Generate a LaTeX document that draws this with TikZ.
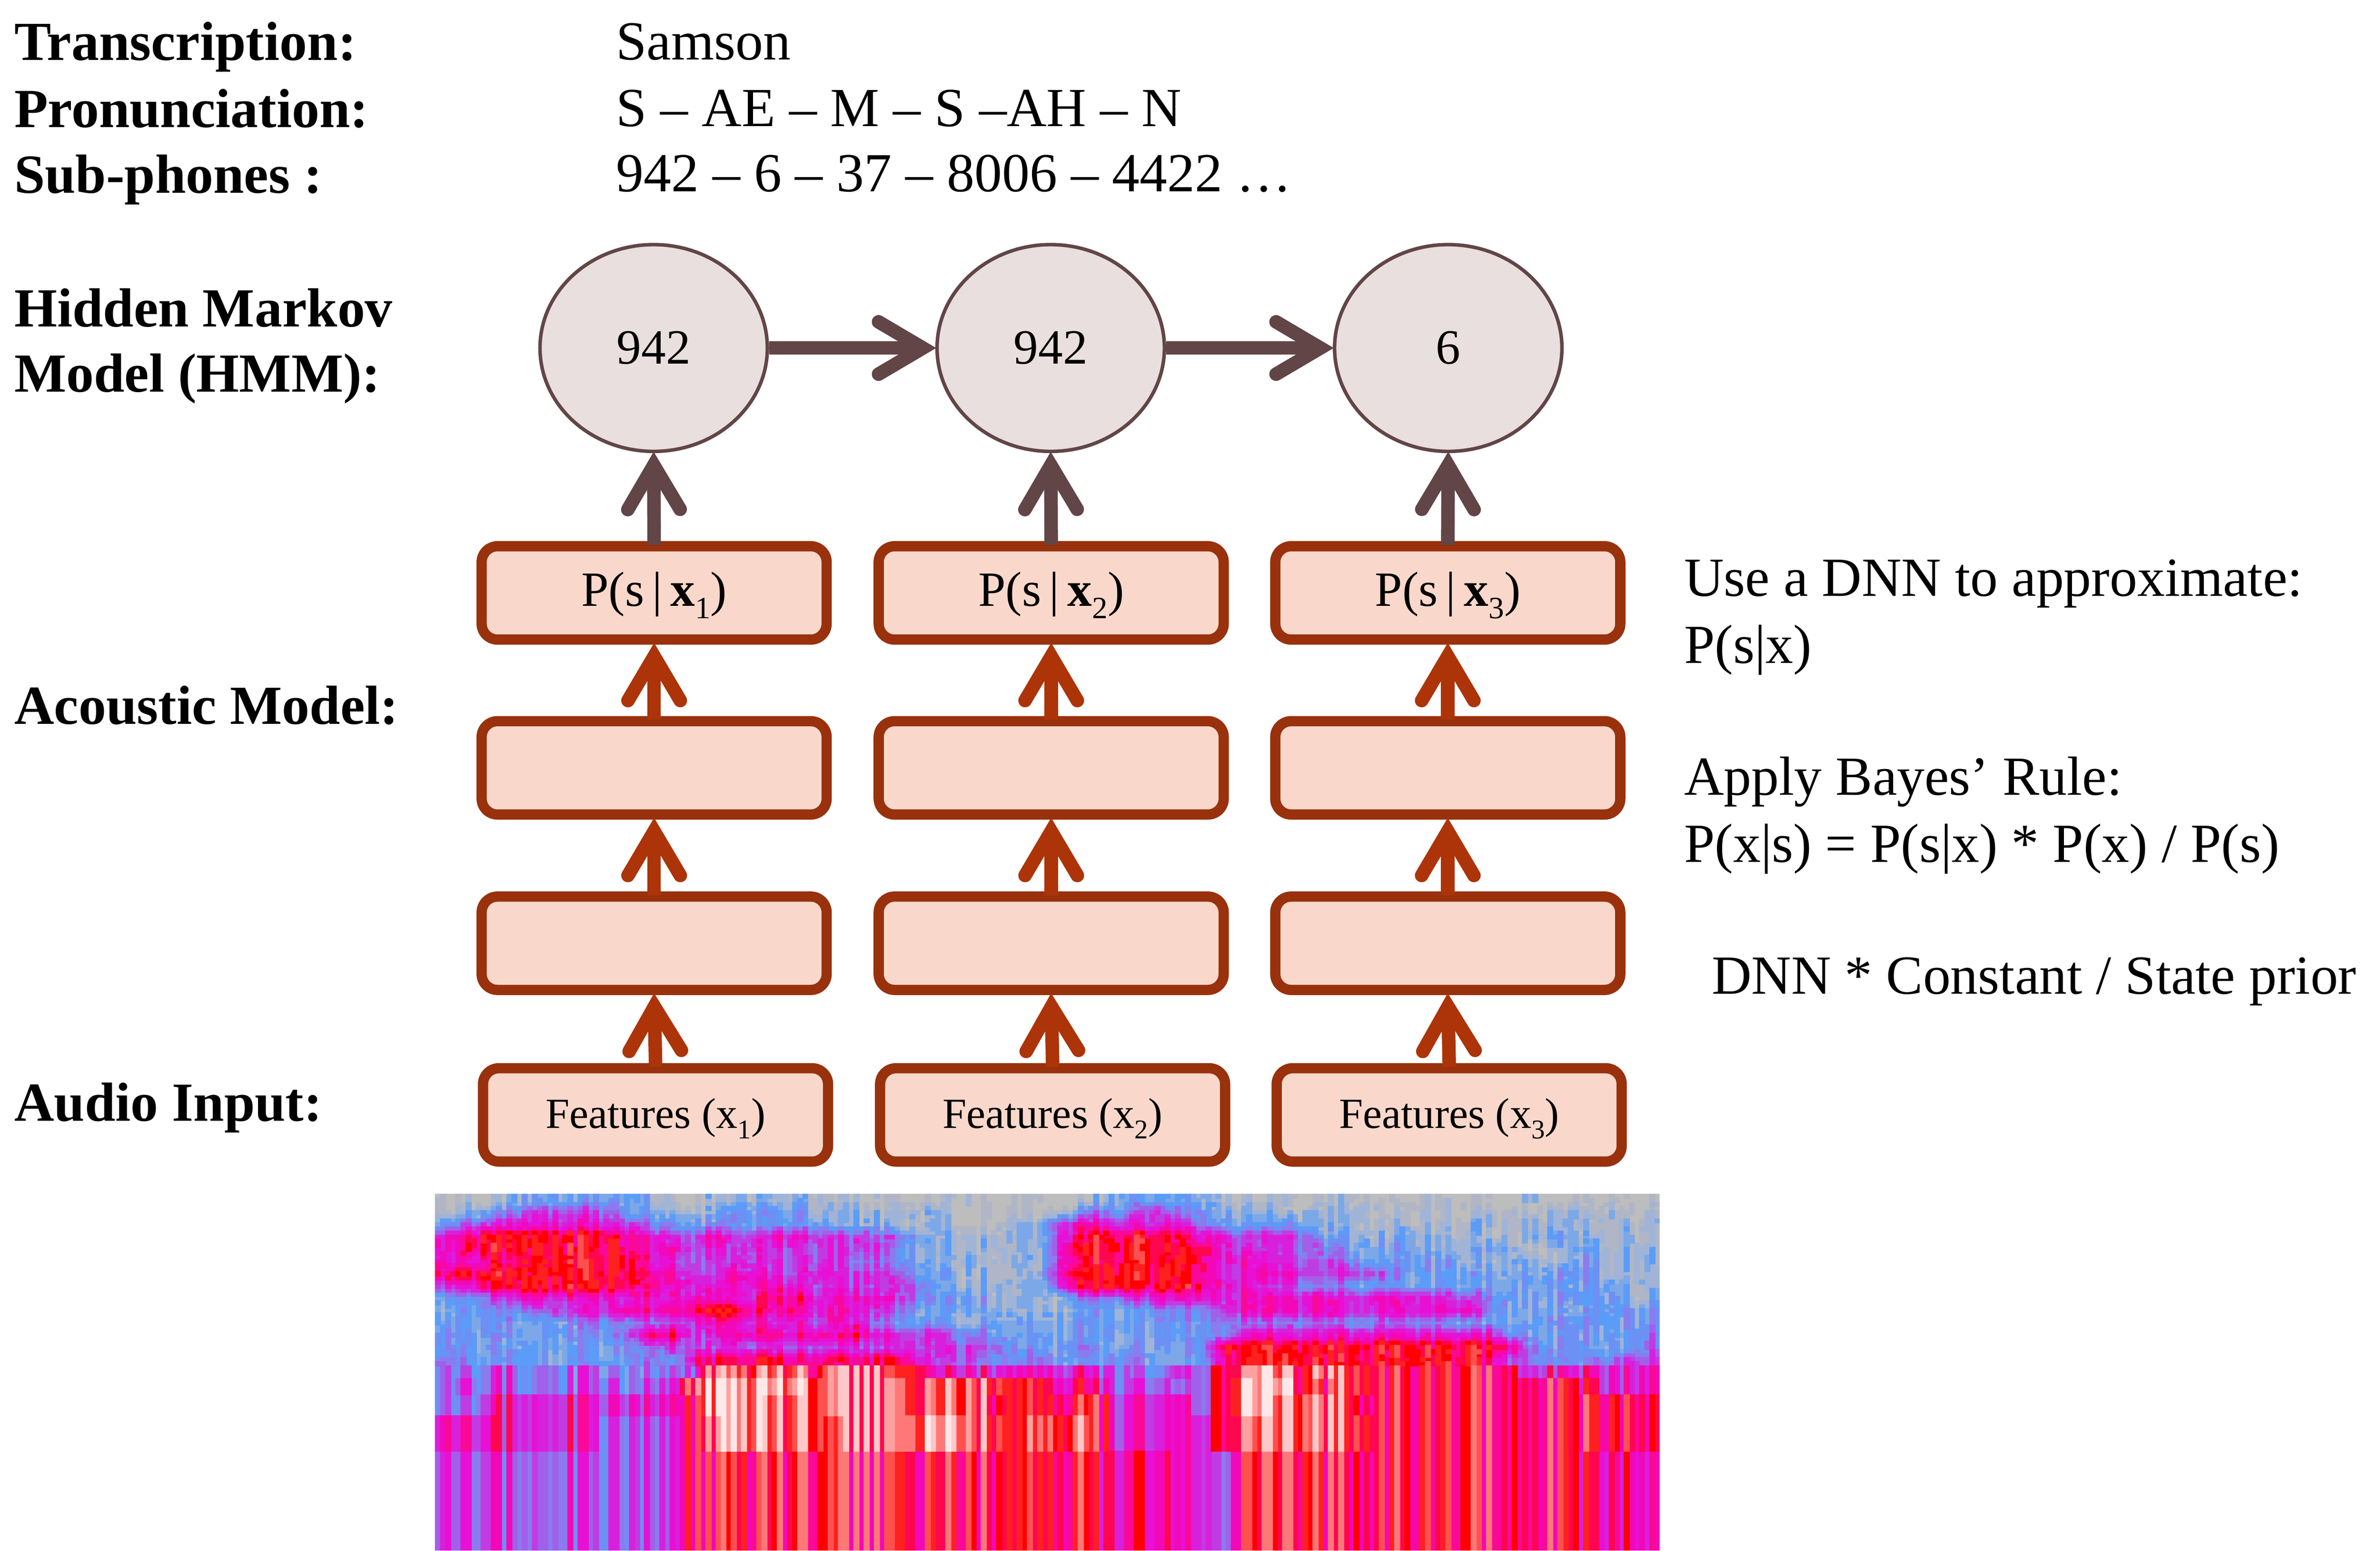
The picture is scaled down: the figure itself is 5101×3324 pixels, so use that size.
\documentclass[tikz,border=0pt]{standalone}
\usepackage{fontspec}
\setmainfont{Liberation Serif}
\usetikzlibrary{arrows.meta,shapes.geometric}
\definecolor{dk}{HTML}{624546}
\definecolor{org}{HTML}{AC3408}
\definecolor{bd}{HTML}{99310D}
\definecolor{bx}{HTML}{F9D8CB}
\definecolor{el}{HTML}{E8DFDE}
\definecolor{sp0}{HTML}{BDBDBD}
\definecolor{sp1}{HTML}{B0B6C6}
\definecolor{sp2}{HTML}{A0B4D8}
\definecolor{sp3}{HTML}{7CA8E8}
\definecolor{sp4}{HTML}{5A9CF8}
\definecolor{sp5}{HTML}{6C90F4}
\definecolor{sp6}{HTML}{8A7CEE}
\definecolor{sp7}{HTML}{A060EA}
\definecolor{sp8}{HTML}{C03CE2}
\definecolor{sp9}{HTML}{D820DC}
\definecolor{sp10}{HTML}{E810D4}
\definecolor{sp11}{HTML}{F208B8}
\definecolor{sp12}{HTML}{FA0898}
\definecolor{sp13}{HTML}{FF0650}
\definecolor{sp14}{HTML}{FF0000}
\definecolor{sp15}{HTML}{FF2020}
\definecolor{sp16}{HTML}{FF5050}
\definecolor{sp17}{HTML}{FF7878}
\definecolor{sp18}{HTML}{FFA0A0}
\definecolor{sp19}{HTML}{FFC8C8}
\definecolor{sp20}{HTML}{FFE8E8}
% pseudo-random numbers for the spectrogram streaks
\newcount\rndv \rndv=12345
\newcount\rndt
\newcount\rndres
\def\nextrnd#1{%
  \global\multiply\rndv by 1103 \global\advance\rndv by 12345
  \rndt=\rndv \divide\rndt by 32768 \multiply\rndt by 32768
  \global\advance\rndv by -\rndt
  \rndres=\rndv \divide\rndres by 64
  \rndt=\rndres \divide\rndt by #1 \multiply\rndt by #1
  \advance\rndres by -\rndt}
\newcount\ii \ii=0
\loop
  \nextrnd{7}\advance\rndres by -3
  \expandafter\xdef\csname cn\the\ii\endcsname{\the\rndres}
  \nextrnd{3}\advance\rndres by -1
  \expandafter\xdef\csname st\the\ii\endcsname{\the\rndres}
  \advance\ii by 1
\ifnum\ii<240 \repeat
\ii=0
\loop
  \expandafter\gdef\csname sq\the\ii\endcsname{}
  \advance\ii by 1
\ifnum\ii<21 \repeat
\newcount\colidx \newcount\subc \newcount\subr \newcount\lev
\newcount\xa \newcount\xb \newcount\ya \newcount\yb
\newcount\rA \newcount\rB \newcount\gg \newcount\cA \newcount\cB \newcount\ff \newcount\qq
% store one row of the intensity table
\def\storerow#1#2{\def\currow{#1}\colidx=0 \storescan#2\relax}
\def\storescan#1{\ifx#1\relax\else
  \expandafter\xdef\csname m\currow.\the\colidx\endcsname{#1}%
  \advance\colidx by 1 \expandafter\storescan\fi}
\def\mval#1#2{\csname m\the#1.\the#2\endcsname}
% collect each rectangle in the path of its colour
\def\addrect{%
  \ifnum\lev<0 \lev=0 \fi \ifnum\lev>20 \lev=20 \fi
  \xa=\numexpr 932+\subc*2625/240\relax
  \xb=\numexpr 932+(\subc+1)*2625/240+\ifnum\subc<239 2\else 0\fi\relax
  \expandafter\xdef\csname sq\the\lev\endcsname{%
    \unexpanded\expandafter\expandafter\expandafter{\csname sq\the\lev\endcsname}%
    (\the\xa,\the\ya)rectangle(\the\xb,\the\yb)}}
% upper part: smooth table with short vertical streaks
\def\drawtop{\subr=0 \dtrow}
\def\dtrow{\ifnum\subr<42
  \qq=\subr \advance\qq by -1 \ifnum\qq<0 \qq=0 \fi
  \rA=\qq \divide\rA by 3 \gg=\qq \advance\gg by -\numexpr3*\rA\relax
  \rB=\rA \advance\rB by 1 \ifnum\rB>13 \rB=13 \fi
  \ya=\numexpr 2559+\subr*368/42\relax
  \yb=\numexpr 2559+(\subr+1)*368/42+2\relax
  \subc=0 \dtcell \advance\subr by 1 \expandafter\dtrow\fi}
\def\dtcell{\ifnum\subc<240 \dodt \advance\subc by 1 \expandafter\dtcell\fi}
\def\dodt{%
  \qq=\subc \advance\qq by -2 \ifnum\qq<0 \qq=0 \fi
  \cA=\qq \divide\cA by 4 \ff=\qq \advance\ff by -\numexpr4*\cA\relax
  \cB=\cA \advance\cB by 1 \ifnum\cB>59 \cB=59 \fi
  \nextrnd{3}\ifnum\rndres=0 \nextrnd{3}\advance\rndres by -1
    \expandafter\xdef\csname st\the\subc\endcsname{\the\rndres}\fi
  \lev=\numexpr((4-\ff)*(3-\gg)*\mval\rA\cA+\ff*(3-\gg)*\mval\rA\cB
    +(4-\ff)*\gg*\mval\rB\cA+\ff*\gg*\mval\rB\cB)/6
    +\csname cn\the\subc\endcsname/3+\csname st\the\subc\endcsname\relax
  \addrect}
% lower part: sharp bands of long streaks
\def\drawband#1#2#3{\storerow{99}{#3}\rA=99 \ya=#1 \yb=#2 \subc=0 \dbcell}
\def\dbcell{\ifnum\subc<240
  \cA=\subc \divide\cA by 4
  \lev=\numexpr 2*\mval\rA\cA+\csname cn\the\subc\endcsname\relax
  \addrect
  \advance\subc by 1 \expandafter\dbcell\fi}
\def\filldo#1#2{\fill[sp#2] #1;}
\def\fillsq#1{\expandafter\expandafter\expandafter\filldo\expandafter\expandafter\expandafter{\csname sq#1\endcsname}{#1}}
\newcommand\psub[1]{\raisebox{-0.27cm}{\fontsize{18.9}{20}\selectfont #1}}
\newcommand\fsub[1]{\raisebox{-0.23cm}{\fontsize{16.5}{18}\selectfont #1}}
\tikzset{
  head/.style={anchor=base west,inner sep=0pt,font=\fontsize{33.6}{40}\selectfont\bfseries},
  body/.style={anchor=base west,inner sep=0pt,font=\fontsize{33.6}{40}\selectfont},
  state/.style={ellipse,draw=dk,fill=el,line width=0.075cm,minimum width=4.87cm,minimum height=4.43cm,inner sep=0pt,font=\fontsize{30}{34}\selectfont},
  layer/.style={rectangle,draw=bd,fill=bx,line width=0.22cm,rounded corners=0.34cm,minimum width=7.39cm,minimum height=2cm,inner sep=0pt},
  plabel/.style={font=\fontsize{30}{34}\selectfont,text height=0.7cm,text depth=0.14cm},
  flabel/.style={font=\fontsize{26.2}{31}\selectfont,text height=0.66cm,text depth=0.1cm},
  darrow/.style={draw=dk,line width=0.29cm,-{Straight Barb[length=0.95cm,width=1.12cm,line width=0.29cm,line cap=round,line join=miter]}},
  oarrow/.style={draw=org,line width=0.29cm,-{Straight Barb[length=0.95cm,width=1.12cm,line width=0.29cm,line cap=round,line join=miter]}}
}
\begin{document}
\begin{tikzpicture}[x=0.01cm,y=-0.01cm]
\useasboundingbox (0,0) rectangle (5101,3324);
\fill[white] (0,0) rectangle (5101,3324);
% left headings
\node[head] (t1) at (30,129) {Transcription:};
\node[head] (t2) at (30,273) {Pronunciation:};
\node[head] (t3) at (30,414) {Sub-phones :};
\node[head] (t4) at (30,700) {Hidden Markov};
\node[head] (t5) at (30,840) {Model (HMM):};
\node[head] (t6) at (30,1552) {Acoustic Model:};
\node[head] (t7) at (30,2403) {Audio Input:};
% top values
\node[body] (v1) at (1320,128) {Samson};
\node[body] (v2) at (1320,271) {S – AE – M – S –AH – N};
\node[body] (v3) at (1320,411) {942 – 6 – 37 – 8006 – 4422 …};
% right notes
\node[body] (n1) at (3609,1278) {Use a DNN to approximate:};
\node[body] (n2) at (3609,1422) {P(s|x)};
\node[body] (n3) at (3609,1704) {Apply Bayes’ Rule:};
\node[body] (n4) at (3609,1848) {P(x|s) = P(s|x) * P(x) / P(s)};
\node[body] (n5) at (3668,2131) {DNN * Constant / State prior};
% columns
\node[state] (e1) at (1401,746) {942};
\node[state] (e2) at (2252,746) {942};
\node[state] (e3) at (3104,746) {6};
\foreach \i/\cx in {1/1402,2/2253,3/3103}{
  \node[layer,plabel] (p\i) at (\cx,1271) {P(s\,|\,\textbf{x}\psub{\i})};
  \node[layer] (a\i) at (\cx,1646) {};
  \node[layer] (b\i) at (\cx,2022) {};
  \node[layer,flabel] (f\i) at (\cx+3,2390) {Features (x\fsub{\i})};
}
\draw[darrow,shorten >=-0.02cm] (e1) -- (e2);
\draw[darrow,shorten >=-0.02cm] (e2) -- (e3);
\foreach \i in {1,2,3}{
  \draw[darrow,shorten <=-0.08cm,shorten >=-0.03cm] (p\i.north) -- (e\i.south);
  \draw[oarrow,shorten <=-0.08cm,shorten >=-0.04cm] (a\i.north) -- (p\i.south);
  \draw[oarrow,shorten <=-0.08cm,shorten >=-0.04cm] (b\i.north) -- (a\i.south);
  \draw[oarrow,shorten <=-0.08cm,shorten >=-0.04cm] (f\i.north) -- (b\i.south);
}
% spectrogram
\storerow{0}{0001222222 1001111110 0000000000 0012222110 0000100000 0001000000}
\storerow{1}{0123444432 2111222211 1111100000 1233443221 1011110100 0110110101}
\storerow{2}{2345555554 3222222221 1110100011 4555555322 2211111110 1111111111}
\storerow{3}{5677777776 5445445544 4432111111 5677776554 4432211211 1111211111}
\storerow{4}{5677777776 5544454444 4422111111 5777777654 4433222211 1211112111}
\storerow{5}{5566777777 5444444444 3322111111 5677777655 4444322222 1112112111}
\storerow{6}{6777777777 6544554454 4432211111 6777777655 5544443222 2212222111}
\storerow{7}{4567777776 6555555544 4443211111 5677777655 4433222222 2222212211}
\storerow{8}{2234555555 5555556655 5543222111 1333455555 5555555554 4322222211}
\storerow{9}{1223344556 5667765655 5432212111 1122233345 5555555555 5322212222}
\storerow{10}{2222222333 3445554545 5322211222 2222222233 3333333332 2222222222}
\storerow{11}{2222222234 6644566565 6544433222 2222222235 5555555555 5532222223}
\storerow{12}{2222222223 3444444444 4444444322 2322222277 7777777777 7763222223}
\storerow{13}{3222222223 3256676666 6665443333 2223222267 7777777777 7643323344}
\drawtop
\drawband{2927}{2956}{3334343433 3348888878 8878555555 5544334378 9878887777 7775555555}
\drawband{2954}{2991}{3434343443 4489999988 8888888877 6654443379 9977887777 7777776555}
\drawband{2989}{3036}{3345555555 5579998888 8888888777 7775555379 9888877777 7777777776}
\drawband{3034}{3112}{5555555544 4478998887 8889998878 8875555478 8888887777 7777777776}
\drawband{3110}{3324}{4444444444 4477777777 7777777777 7766665447 7777777777 7777776665}
\foreach \k in {0,...,20}{\fillsq{\k}}
\end{tikzpicture}
\end{document}
